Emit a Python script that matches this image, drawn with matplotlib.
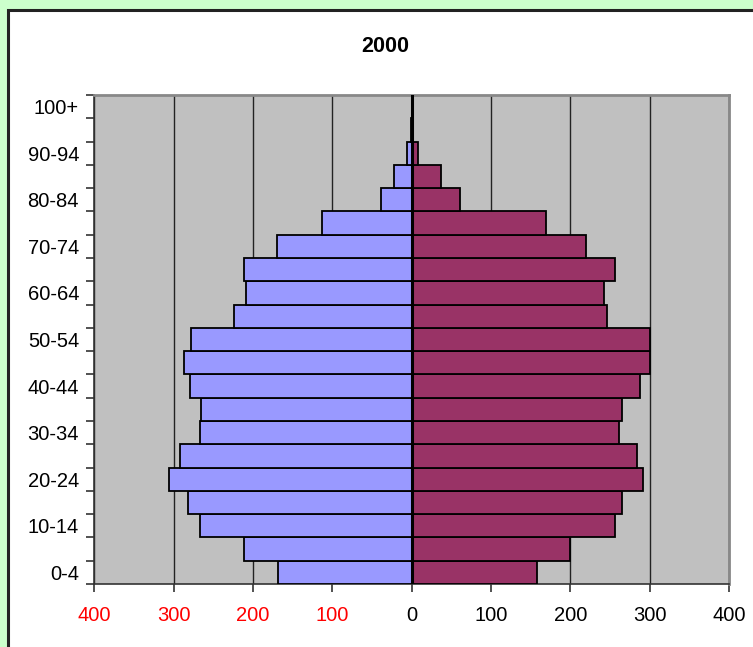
"""Population pyramid for 2000, styled like an old Excel chart."""

import matplotlib
matplotlib.use("Agg")
import matplotlib.pyplot as plt
from matplotlib.patches import Rectangle

AGE_GROUPS = [
    "0-4", "5-9", "10-14", "15-19", "20-24", "25-29", "30-34", "35-39",
    "40-44", "45-49", "50-54", "55-59", "60-64", "65-69", "70-74",
    "75-79", "80-84", "85-89", "90-94", "95-99", "100+",
]
MALES = [168, 211, 267, 282, 306, 292, 267, 265, 280, 287, 278,
         224, 209, 211, 170, 113, 39, 22, 6, 1, 0]
FEMALES = [158, 199, 256, 265, 291, 284, 261, 265, 288, 300, 300,
           246, 242, 256, 220, 169, 61, 37, 8, 1, 0]
X_TICKS = [-400, -300, -200, -100, 0, 100, 200, 300, 400]
TITLE = "2000"

MALE_COLOR = "#9999FF"
FEMALE_COLOR = "#993366"


def main() -> None:
    plt.rcParams["font.family"] = ["Liberation Sans", "DejaVu Sans"]
    fig = plt.figure(figsize=(7.53, 6.47), dpi=100)
    fig.patch.set_facecolor("#CCFFCC")

    # white chart area with dark frame, kept behind the axes
    frame = Rectangle((7.5 / 753, -0.05), 1.1, 1.0 - 9.5 / 647 + 0.05,
                      transform=fig.transFigure, facecolor="white",
                      edgecolor="#222222", linewidth=2.2, zorder=-5)
    fig.add_artist(frame)

    ax = fig.add_axes([94.3 / 753, 1 - 584 / 647, (729 - 94.3) / 753, (584 - 95) / 647])
    ax.set_zorder(2)
    ax.set_facecolor("#C0C0C0")

    y = list(range(len(AGE_GROUPS)))
    ax.barh(y, [-m for m in MALES], height=1.0, color=MALE_COLOR,
            edgecolor="black", linewidth=1.3, zorder=3)
    ax.barh(y, FEMALES, height=1.0, color=FEMALE_COLOR,
            edgecolor="black", linewidth=1.3, zorder=3)
    ax.axvline(0, color="black", linewidth=2.2, zorder=4)

    ax.set_xlim(-400, 400)
    ax.set_ylim(-0.5, len(AGE_GROUPS) - 0.5)

    ax.set_xticks(X_TICKS)
    ax.set_xticklabels([str(abs(v)) for v in X_TICKS])
    for lbl, v in zip(ax.get_xticklabels(), X_TICKS):
        lbl.set_color("red" if v < 0 else "black")
    ax.tick_params(axis="x", length=6, width=1.2, color="#333333",
                   labelsize=14.5, pad=10)
    ax.xaxis.grid(True, color="#222222", linewidth=1.0, zorder=1)
    ax.set_axisbelow(True)

    # ticks at category boundaries, labels on every other group
    ax.set_yticks([i - 0.5 for i in range(len(AGE_GROUPS) + 1)])
    ax.set_yticklabels([])
    ax.set_yticks(y[::2], minor=True)
    ax.set_yticklabels(AGE_GROUPS[::2], minor=True)
    ax.tick_params(axis="y", which="major", length=6, width=1.2, color="#333333")
    ax.tick_params(axis="y", which="minor", length=0, labelsize=14.5, pad=11)

    for side in ("top", "right"):
        ax.spines[side].set_color("#888888")
        ax.spines[side].set_linewidth(2)
    ax.spines["left"].set_color("#333333")
    ax.spines["bottom"].set_color("#333333")
    ax.spines["left"].set_linewidth(1.2)
    ax.spines["bottom"].set_linewidth(1.2)

    fig.text(385 / 753, 1 - 46 / 647, TITLE, ha="center", va="center",
             fontsize=15.5, fontweight="bold")

    fig.savefig("out.png", dpi=100, facecolor=fig.get_facecolor())


if __name__ == "__main__":
    main()
